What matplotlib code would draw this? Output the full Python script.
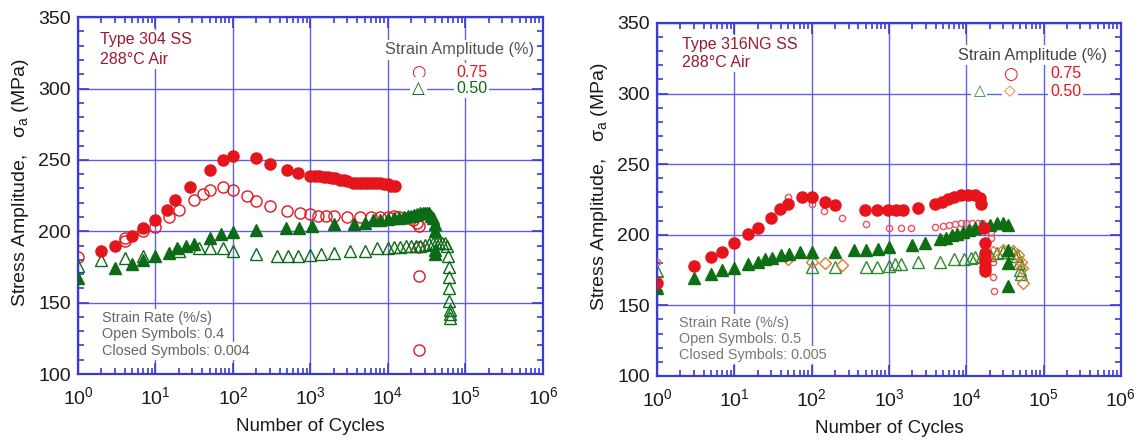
import matplotlib
matplotlib.use("Agg")
import matplotlib.pyplot as plt
from matplotlib.ticker import MultipleLocator, LogLocator, FixedLocator

plt.rcParams['font.family'] = ['Liberation Sans', 'DejaVu Sans']
plt.rcParams['mathtext.default'] = 'regular'

# ---- Type 304 SS, 288C air ----
# closed red circles: 0.75 % strain, 0.004 %/s
n304_c075 = [2, 3, 5, 7, 10, 14, 18, 28, 50, 75, 100, 200, 300, 500, 700, 1000, 1150, 1300,
             1500, 1700, 1900, 2100, 2400, 2700, 3000, 3500, 4000, 4500, 5000, 5600, 6300,
             7000, 8000, 9000, 10000, 11000, 12500]
s304_c075 = [186, 190, 197, 202, 208, 215, 222, 231, 243, 250, 253, 251, 247, 243, 241, 239,
             239, 239, 238, 238, 237, 237, 236, 236, 235, 234, 234, 234, 234, 234, 234, 234,
             234, 233, 233, 232, 232]
# open red circles: 0.75 % strain, 0.4 %/s
n304_o075 = [1, 4, 4, 7, 10, 15, 20, 31, 41, 51, 74, 100, 150, 200, 300, 500, 740, 1000,
             1250, 1600, 2000, 3000, 4300, 6000, 8000, 10000, 12000, 14000, 17000, 21000,
             24000, 25500, 25500, 25500, 25500]
s304_o075 = [182, 195, 193, 200, 203, 210, 215, 222, 226, 229, 231, 229, 225, 221, 218, 214,
             213, 212, 211, 211, 211, 210, 210, 210, 210, 210, 211, 210, 209, 208, 206, 204,
             189, 169, 117]
# closed green triangles: 0.50 % strain, 0.004 %/s
n304_c050 = [1, 3, 5, 7, 10, 15, 19, 25, 31, 50, 70, 100, 200, 490, 710, 1050, 2000, 3600,
             5000, 6400, 8000, 10000, 12000, 14000, 16000, 18000, 20000, 22000, 24000, 26000,
             28000, 30000, 32000, 34000, 36000, 38000, 40000, 41000, 41000, 41000]
s304_c050 = [167, 174, 177, 180, 182.5, 185, 188, 190, 191, 195, 198, 199.5, 201, 202, 202,
             204, 205, 205, 206, 208, 208, 208.5, 209, 209.5, 210, 210.5, 211, 211.5, 212,
             212.5, 213, 213, 213, 212.5, 211, 209, 205, 200, 187, 184]
# open green triangles: 0.50 % strain, 0.4 %/s
n304_o050 = [1, 2, 4, 7, 20, 36, 51, 74, 100, 200, 370, 510, 700, 1000, 1370, 2000, 3200,
             5000, 7200, 9900, 12000, 14500, 17000, 20000, 23000, 26000, 30000, 34000, 38000,
             42000, 46000, 50000, 54000, 58000, 60000, 61000, 61000, 62000, 62000, 63000,
             63000, 63000]
s304_o050 = [176, 180, 181, 183, 186, 188.5, 188.5, 188, 186.5, 184, 183, 183, 183, 183.5,
             184, 185, 186, 186.5, 188, 188, 189, 189, 189.5, 190, 190, 190, 190.5, 191,
             191.5, 192, 192, 192, 191.5, 190, 183, 175, 168, 160, 151, 145, 142, 139]

# ---- Type 316NG SS, 288C air ----
n316_c075 = [1, 3, 5, 7, 10, 15, 20, 30, 39, 50, 75, 100, 150, 200, 490, 710, 980, 1240, 1540,
             2400, 3900, 4800, 5800, 7000, 8600, 10500, 12800, 14900, 15600, 17000, 17300,
             17300, 17300, 17300, 17300]
s316_c075 = [166, 178, 184, 188, 194, 200.5, 205, 212, 218, 222, 226.5, 226.5, 223, 221,
             217.5, 217.5, 217.5, 217.5, 217.5, 219, 222, 223.5, 225.5, 227, 228, 228.5, 228,
             226, 222, 205, 194, 187, 182, 177.5, 174]
n316_o075 = [1, 50, 100, 145, 245, 500, 1000, 1450, 1900, 3900, 5000, 6000, 7200, 8500, 10000,
             12000, 14000, 16000, 19000, 21000, 21000, 22000, 22000, 22500]
s316_o075 = [180.5, 227, 222, 217, 212, 207.5, 205, 204.5, 204.5, 205.5, 206, 207, 207.5, 208,
             208, 208.5, 208.5, 208, 206, 202, 198, 181, 170, 160]
n316_c050 = [1, 3, 5, 7, 10, 15, 20, 25, 31, 40, 51, 70, 100, 200, 350, 500, 720, 1000, 1970,
             2950, 4600, 5500, 6500, 7500, 9000, 11000, 13000, 16000, 20000, 25000, 30000,
             35000, 34500, 34500, 34500]
s316_c050 = [162, 169.5, 172.5, 175, 176.5, 179, 181, 183, 183.5, 185.5, 186.5, 188, 188, 188,
             189, 189.5, 190, 191, 192.5, 194, 197, 198, 199.5, 200.5, 202, 203.5, 205, 206,
             207, 208, 208, 207, 189, 180, 164]
n316_o050 = [1, 100, 200, 500, 700, 1000, 1200, 1450, 2400, 4600, 7000, 9400, 11400, 13000,
             16000, 20000, 25000, 30000, 35000, 40000, 45000, 48000, 50000, 51600]
s316_o050 = [174, 177.5, 177.5, 177.5, 177.5, 178, 179, 179.5, 180.5, 181, 182.5, 183, 183.5,
             184, 185, 186, 187, 188, 188, 187, 185, 180, 175, 172]
n316_dia = [50, 100, 150, 250, 22000, 30000, 40000, 47000, 51600, 53000, 54000]
s316_dia = [182.5, 181, 180, 178.5, 188, 189, 188.5, 186, 181, 176.5, 166]

decades = [1, 10, 100, 1000, 10000, 100000, 1000000]

BLUE = '#3a3ad8'
GRID = '#6060e8'


def style_axes(ax):
    ax.set_xscale('log')
    ax.set_xlim(1, 1e6)
    ax.set_ylim(100, 350)
    ax.yaxis.set_major_locator(MultipleLocator(50))
    ax.yaxis.set_minor_locator(MultipleLocator(10))
    ax.xaxis.set_major_locator(FixedLocator(decades))
    ax.xaxis.set_minor_locator(LogLocator(base=10, subs=range(2, 10), numticks=20))
    ax.grid(True, which='major', color=GRID, lw=1.0, zorder=0)
    ax.set_axisbelow(True)
    for sp in ax.spines.values():
        sp.set_color(BLUE)
        sp.set_linewidth(1.6)
    ax.tick_params(which='both', direction='in', top=True, right=True, color=BLUE,
                   labelsize=14, labelcolor='#1a1a1a', width=1.2)
    ax.tick_params(which='major', length=8)
    ax.tick_params(axis='x', which='major', pad=9)
    ax.tick_params(axis='y', which='major', pad=5)
    ax.tick_params(which='minor', length=4)
    ax.set_xlabel('Number of Cycles', fontsize=13.5, labelpad=7, color='#1a1a1a')
    ax.set_ylabel('Stress Amplitude,   σ$_a$ (MPa)', fontsize=14, labelpad=5,
                  color='#1a1a1a')
    ax.yaxis.set_label_coords(-0.102, 0.535)


fig = plt.figure(figsize=(11.38, 4.40), dpi=100)
ax1 = fig.add_axes([0.0685, 0.150, 0.4086, 0.811])
ax2 = fig.add_axes([0.5773, 0.1455, 0.4077, 0.8023])

# left panel
RED = '#e3161b'
DGREEN = '#0b6b16'
style_axes(ax1)
ax1.plot(n304_o075, s304_o075, 'o', ms=8, mfc='none', mec=RED, mew=1.0, zorder=3)
ax1.plot(n304_c075, s304_c075, 'o', ms=8, color=RED, zorder=4)
ax1.plot(n304_o050, s304_o050, '^', ms=8.5, mfc='none', mec=DGREEN, mew=1.0, zorder=3)
ax1.plot(n304_c050, s304_c050, '^', ms=8.5, color=DGREEN, zorder=4)

wb = dict(facecolor='white', edgecolor='none', pad=1.5)
ax1.text(0.047, 0.936, 'Type 304 SS', transform=ax1.transAxes, fontsize=11.5,
         color='#9a1a2c', va='center', bbox=wb)
ax1.text(0.047, 0.882, '288°C Air', transform=ax1.transAxes, fontsize=11.5,
         color='#9a1a2c', va='center', bbox=wb)
ax1.text(0.66, 0.908, 'Strain Amplitude (%)', transform=ax1.transAxes, fontsize=11.7,
         color='#555555', va='center', bbox=wb)
ax1.text(0.733, 0.846, '○', transform=ax1.transAxes, fontsize=12, color=RED,
         ha='center', va='center', family=['DejaVu Sans'], bbox=wb)
ax1.text(0.813, 0.846, '0.75', transform=ax1.transAxes, fontsize=11.5, color=RED,
         va='center', bbox=wb)
ax1.text(0.733, 0.801, '△', transform=ax1.transAxes, fontsize=12, color=DGREEN,
         ha='center', va='center', family=['DejaVu Sans'], bbox=wb)
ax1.text(0.813, 0.801, '0.50', transform=ax1.transAxes, fontsize=11.5, color=DGREEN,
         va='center', bbox=wb)
for txt, yy in [('Strain Rate (%/s)', 0.157), ('Open Symbols: 0.4', 0.112),
                ('Closed Symbols: 0.004', 0.064)]:
    ax1.text(0.052, yy, txt, transform=ax1.transAxes, fontsize=10.4, color='#666666',
             va='center', bbox=wb)

# right panel
RED2 = '#e8141c'
GREEN2 = '#0d6e12'
OGREEN = '#2e8b2e'
ORANGE = '#e07a2c'
style_axes(ax2)
ax2.plot(n316_o050, s316_o050, '^', ms=8, mfc='none', mec=OGREEN, mew=1.0, zorder=3)
ax2.plot(n316_dia, s316_dia, 'D', ms=6, mfc='none', mec=ORANGE, mew=1.0, zorder=3)
ax2.plot(n316_o075, s316_o075, 'o', ms=4.5, mfc='none', mec='#f05060', mew=1.0, zorder=3)
ax2.plot(n316_c050, s316_c050, '^', ms=8.5, color=GREEN2, zorder=4)
ax2.plot(n316_c075, s316_c075, 'o', ms=8, color=RED2, zorder=5)

ax2.text(0.054, 0.938, 'Type 316NG SS', transform=ax2.transAxes, fontsize=11.5,
         color='#9a1a2c', va='center', bbox=wb)
ax2.text(0.054, 0.887, '288°C Air', transform=ax2.transAxes, fontsize=11.5,
         color='#9a1a2c', va='center', bbox=wb)
ax2.text(0.649, 0.909, 'Strain Amplitude (%)', transform=ax2.transAxes, fontsize=11.7,
         color='#444444', va='center', bbox=wb)
ax2.text(0.761, 0.856, '○', transform=ax2.transAxes, fontsize=12, color=RED2,
         ha='center', va='center', weight='bold', family=['DejaVu Sans'], bbox=wb)
ax2.text(0.847, 0.856, '0.75', transform=ax2.transAxes, fontsize=11.5, color=RED2,
         va='center', bbox=wb)
ax2.text(0.695, 0.807, '△', transform=ax2.transAxes, fontsize=11, color=OGREEN,
         ha='center', va='center', weight='bold', family=['DejaVu Sans'], bbox=wb)
ax2.text(0.761, 0.807, '◇', transform=ax2.transAxes, fontsize=11, color=ORANGE,
         ha='center', va='center', weight='bold', family=['DejaVu Sans'], bbox=wb)
ax2.text(0.847, 0.807, '0.50', transform=ax2.transAxes, fontsize=11.5, color=RED2,
         va='center', bbox=wb)
for txt, yy in [('Strain Rate (%/s)', 0.150), ('Open Symbols: 0.5', 0.105),
                ('Closed Symbols: 0.005', 0.059)]:
    ax2.text(0.047, yy, txt, transform=ax2.transAxes, fontsize=10.4, color='#777777',
             va='center', bbox=wb)

fig.savefig('out.png', dpi=100)
